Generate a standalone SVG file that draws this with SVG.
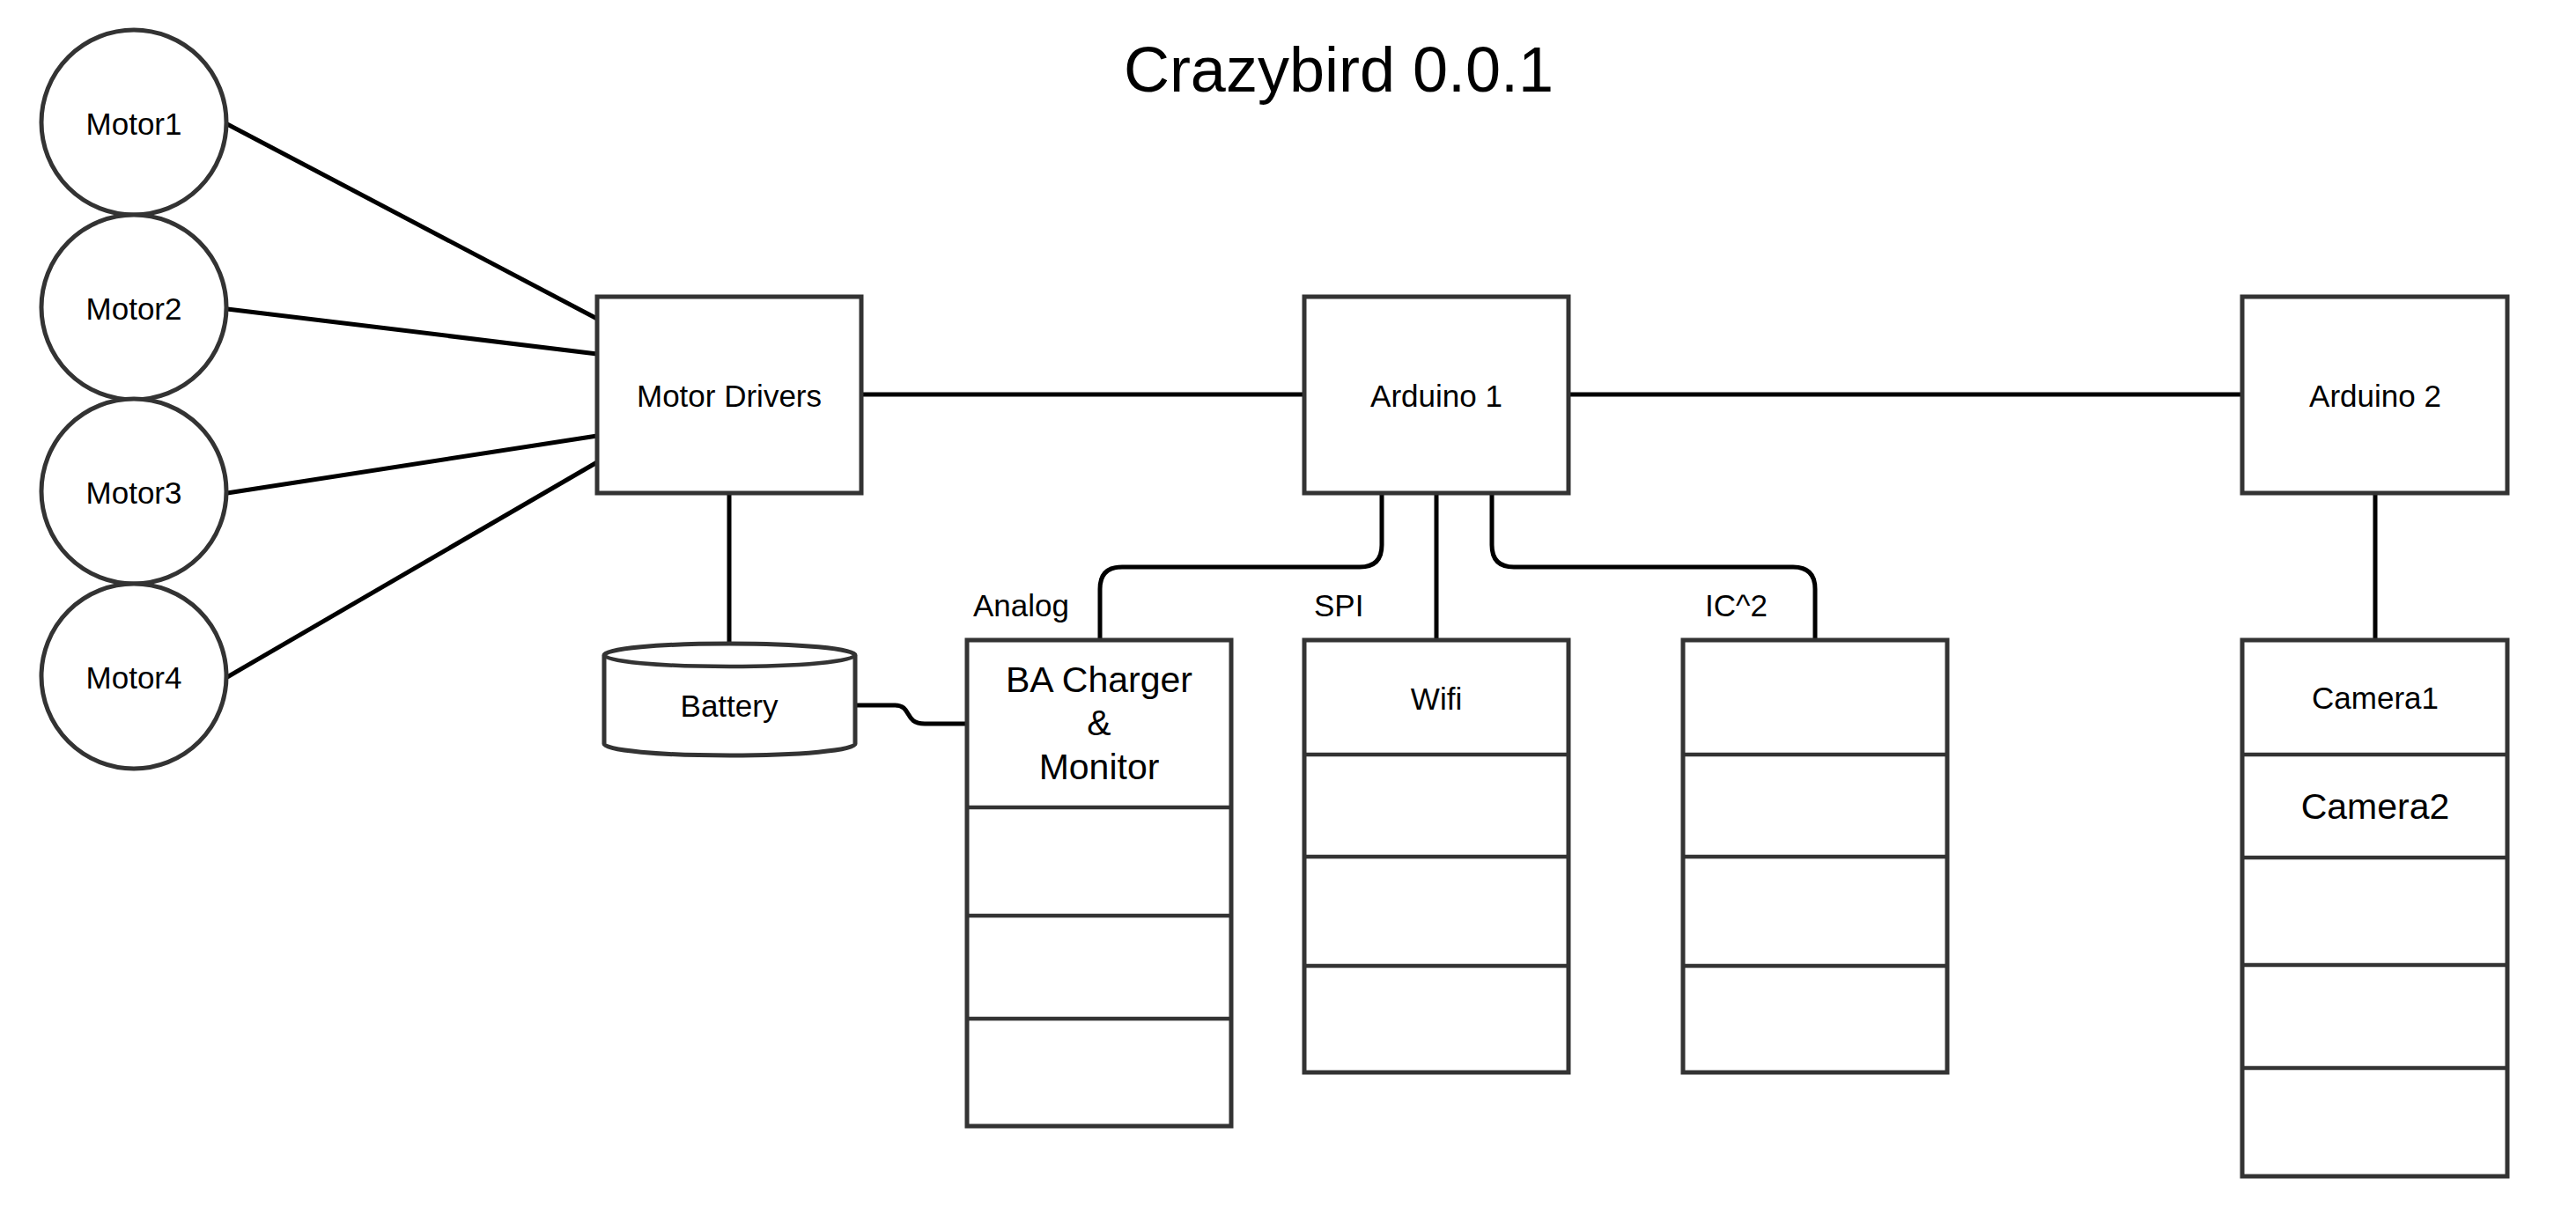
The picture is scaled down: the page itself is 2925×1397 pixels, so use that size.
<svg xmlns="http://www.w3.org/2000/svg" width="2925" height="1397" viewBox="0 0 2925 1397">
<style>
.shape{fill:#fff;stroke:#333;stroke-width:5}
.div{fill:none;stroke:#333;stroke-width:4.5}
.conn{fill:none;stroke:#000;stroke-width:5}
text{font-family:"Liberation Sans",Arial,sans-serif;fill:#000;text-anchor:middle}
.lbl{font-size:35px}
.big{font-size:41px}
.side{font-size:35px;text-anchor:start}
</style>
<rect width="2925" height="1397" fill="#fff"/>
<text x="1520" y="104" style="font-size:72px">Crazybird 0.0.1</text>
<g id="connectors">
<line class="conn" x1="258" y1="141" x2="678" y2="362"/>
<line class="conn" x1="258" y1="351" x2="678" y2="402"/>
<line class="conn" x1="258" y1="560" x2="678" y2="495"/>
<line class="conn" x1="258" y1="769" x2="678" y2="525"/>
<line class="conn" x1="978" y1="448" x2="1481" y2="448"/>
<line class="conn" x1="1781" y1="448" x2="2546" y2="448"/>
<line class="conn" x1="828" y1="560" x2="828" y2="744"/>
<path class="conn" d="M971,801 H1016 C1036,801 1026,822 1050,822 H1097"/>
<path class="conn" d="M1569,560 V619 Q1569,644 1544,644 H1274 Q1249,644 1249,669 V726"/>
<line class="conn" x1="1631" y1="560" x2="1631" y2="726"/>
<path class="conn" d="M1694,560 V619 Q1694,644 1719,644 H2036 Q2061,644 2061,669 V726"/>
<line class="conn" x1="2697" y1="560" x2="2697" y2="726"/>
</g>
<g id="motor1"><circle class="shape" cx="152" cy="139" r="105"/><text class="lbl" x="152" y="153">Motor1</text></g>
<g id="motor2"><circle class="shape" cx="152" cy="349" r="105"/><text class="lbl" x="152" y="363">Motor2</text></g>
<g id="motor3"><circle class="shape" cx="152" cy="558" r="105"/><text class="lbl" x="152" y="572">Motor3</text></g>
<g id="motor4"><circle class="shape" cx="152" cy="768" r="105"/><text class="lbl" x="152" y="782">Motor4</text></g>
<g id="motor-drivers"><rect class="shape" x="678" y="337" width="300" height="223"/><text class="lbl" x="828" y="462">Motor Drivers</text></g>
<g id="arduino1"><rect class="shape" x="1481" y="337" width="300" height="223"/><text class="lbl" x="1631" y="462">Arduino 1</text></g>
<g id="arduino2"><rect class="shape" x="2546" y="337" width="301" height="223"/><text class="lbl" x="2697" y="462">Arduino 2</text></g>
<g id="battery">
<path class="shape" d="M686,744 A142.5,13 0 0 1 971,744 V845 A142.5,13 0 0 1 686,845 Z"/>
<path class="div" d="M686,744 A142.5,13 0 0 0 971,744"/>
<text class="lbl" x="828" y="814">Battery</text>
</g>
<g id="ba-charger">
<rect class="shape" x="1098" y="727" width="300" height="552"/>
<line class="div" x1="1098" y1="917" x2="1398" y2="917"/>
<line class="div" x1="1098" y1="1040" x2="1398" y2="1040"/>
<line class="div" x1="1098" y1="1157" x2="1398" y2="1157"/>
<text class="big" x="1248" y="786">BA Charger</text>
<text class="big" x="1248" y="835">&amp;</text>
<text class="big" x="1248" y="885">Monitor</text>
</g>
<text class="side" x="1105" y="700">Analog</text>
<g id="wifi">
<rect class="shape" x="1481" y="727" width="300" height="491"/>
<line class="div" x1="1481" y1="857" x2="1781" y2="857"/>
<line class="div" x1="1481" y1="973" x2="1781" y2="973"/>
<line class="div" x1="1481" y1="1097" x2="1781" y2="1097"/>
<text class="lbl" x="1631" y="806">Wifi</text>
</g>
<text class="side" x="1492" y="700">SPI</text>
<g id="ic2">
<rect class="shape" x="1911" y="727" width="300" height="491"/>
<line class="div" x1="1911" y1="857" x2="2211" y2="857"/>
<line class="div" x1="1911" y1="973" x2="2211" y2="973"/>
<line class="div" x1="1911" y1="1097" x2="2211" y2="1097"/>
</g>
<text class="side" x="1936" y="700">IC^2</text>
<g id="cameras">
<rect class="shape" x="2546" y="727" width="301" height="609"/>
<line class="div" x1="2546" y1="857" x2="2847" y2="857"/>
<line class="div" x1="2546" y1="974" x2="2847" y2="974"/>
<line class="div" x1="2546" y1="1096" x2="2847" y2="1096"/>
<line class="div" x1="2546" y1="1213" x2="2847" y2="1213"/>
<text class="lbl" x="2697" y="805">Camera1</text>
<text class="big" x="2697" y="930">Camera2</text>
</g>
</svg>
